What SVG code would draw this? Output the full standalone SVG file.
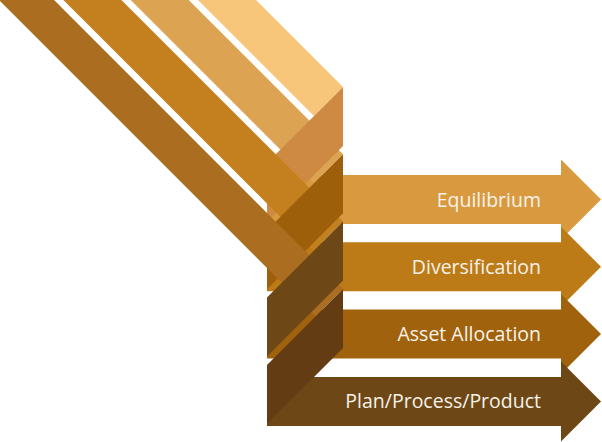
<svg xmlns="http://www.w3.org/2000/svg" width="602" height="442" viewBox="0 0 602 442">
<style>
.lbl{font-family:"Open Sans","Liberation Sans",sans-serif;font-size:19.5px;fill:#F7F2E9;text-anchor:end}
</style>
<rect width="602" height="442" fill="#ffffff"/>
<g id="arrow-equilibrium">
<path fill="#D99A3F" d="M267,175 H561 V159.5 L601,199.5 L561,239.5 V224 H267 Z"/>
<text class="lbl" x="541" y="206.5">Equilibrium</text>
</g>
<g id="arrow-diversification">
<path fill="#BD7B18" d="M267,242.3 H561 V226.8 L601,266.8 L561,306.8 V291.3 H267 Z"/>
<text class="lbl" x="541" y="273.8">Diversification</text>
</g>
<g id="arrow-asset-allocation">
<path fill="#A0620C" d="M267,309.6 H561 V294.1 L601,334.1 L561,374.1 V358.6 H267 Z"/>
<text class="lbl" x="541" y="341.1">Asset Allocation</text>
</g>
<g id="arrow-plan">
<path fill="#6E4716" d="M267,376.9 H561 V361.4 L601,401.4 L561,441.4 V425.9 H267 Z"/>
<text class="lbl" x="541" y="408.4">Plan/Process/Product</text>
</g>
<g id="connectors">
<polygon fill="#F7C67A" points="108,-148 343,87 314,116 79,-119"/>
<polygon fill="#DBA352" points="74.35,-114.35 343,154.3 314,183.3 45.35,-85.35"/>
<polygon fill="#CE8A42" points="343,87 343,146 267,222 267,163"/>
<polygon fill="#C4801E" points="40.7,-80.7 343,221.6 314,250.6 11.7,-51.7"/>
<polygon fill="#9E5F0A" points="343,154.3 343,213.3 267,289.3 267,230.3"/>
<polygon fill="#AB6E20" points="7.05,-47.05 343,288.9 315.45,316.45 -20.5,-19.5"/>
<polygon fill="#6E4716" points="343,221.6 343,280.6 267,356.6 267,297.6"/>
<polygon fill="#633C14" points="343,288.9 343,347.9 267,423.9 267,364.9"/>
</g>
</svg>
